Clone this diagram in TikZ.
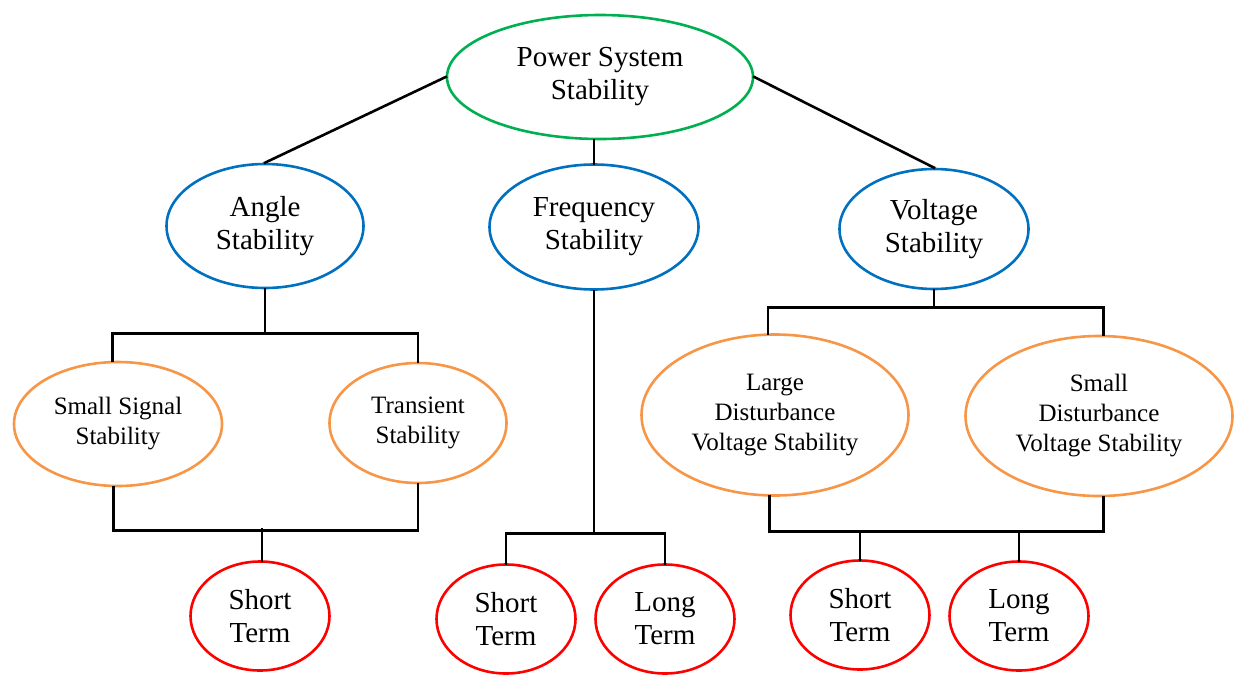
\documentclass[tikz,border=0pt]{standalone}
\usepackage{fontspec}
\setmainfont{Liberation Serif}
\usetikzlibrary{shapes.geometric}
\definecolor{rootcolor}{HTML}{00B050}
\definecolor{classcolor}{HTML}{0070C0}
\definecolor{subcolor}{HTML}{F79646}
\definecolor{termcolor}{HTML}{FF0000}

\begin{document}
\begin{tikzpicture}[
        bubble/.style = {draw, ellipse, line width = 2.6pt, inner sep = 0pt, align = center, font = \fontsize{29}{33}\selectfont},
        subbubble/.style = {bubble, draw = subcolor, font = \fontsize{25}{30}\selectfont},
        termbubble/.style = {bubble, draw = termcolor, minimum width = 139pt, minimum height = 109pt},
        link/.style = {line width = 2.6pt, line cap = rect}
    ]
        \useasboundingbox (0pt, 0pt) rectangle (1235pt, -675pt);

        % Nodes
        \node [bubble, draw = rootcolor, minimum width = 306pt, minimum height = 124pt] (pss) at (600pt, -77pt) {Power System\\Stability};

        \node [bubble, draw = classcolor, minimum width = 197pt, minimum height = 124pt] (angle) at (265pt, -226pt) {Angle\\Stability};
        \node [bubble, draw = classcolor, minimum width = 209pt, minimum height = 125pt] (freq) at (594pt, -227pt) {Frequency\\Stability};
        \node [bubble, draw = classcolor, minimum width = 189pt, minimum height = 120pt] (volt) at (934pt, -229pt) {Voltage\\Stability};

        \node [subbubble, minimum width = 208pt, minimum height = 124pt] (ssig) at (118pt, -424pt) {Small Signal\\Stability};
        \node [subbubble, minimum width = 177pt, minimum height = 120pt] (trans) at (418pt, -423pt) {Transient\\Stability};
        \node [subbubble, minimum width = 267pt, minimum height = 161pt] (ldvs) at (775pt, -415pt) {Large\\Disturbance\\Voltage Stability};
        \node [subbubble, minimum width = 267pt, minimum height = 160pt] (sdvs) at (1099pt, -416pt) {Small\\Disturbance\\Voltage Stability};

        \node [termbubble] (ast) at (260pt, -616pt) {Short\\Term};
        \node [termbubble] (fst) at (506pt, -619pt) {Short\\Term};
        \node [termbubble] (flt) at (665pt, -619pt) {Long\\Term};
        \node [termbubble] (vst) at (860pt, -615pt) {Short\\Term};
        \node [termbubble] (vlt) at (1019pt, -616pt) {Long\\Term};

        % Draw the links
        \draw [link] (pss.west) -- (angle.north);
        \draw [link] (pss.east) -- (volt.north);
        \draw [link] (freq.north) -- (freq.north |- pss.south);

        \draw [link] (angle.south) -- ++(0pt, -43pt);
        \draw [link] (ssig.95) -- ++(0pt, 27pt) -| (trans.north);
        \draw [link] (ssig.-94) -- ++(0pt, -43pt) -| (trans.south);
        \draw [link] (ast.88) -- ++(0pt, 31pt);

        \draw [link] (freq.south) -- ++(0pt, -242pt);
        \draw [link] (fst.north) -- ++(0pt, 30pt) -| (flt.north);

        \draw [link] (volt.south) -- ++(0pt, -17pt);
        \draw [link] (ldvs.95) -- ++(0pt, 26pt) -| (sdvs.87);
        \draw [link] (ldvs.-94) -- ++(0pt, -35pt) -| (sdvs.-87);
        \draw [link] (vst.north) -- ++(0pt, 28pt);
        \draw [link] (vlt.north) -- ++(0pt, 28pt);

    \end{tikzpicture}
\end{document}
